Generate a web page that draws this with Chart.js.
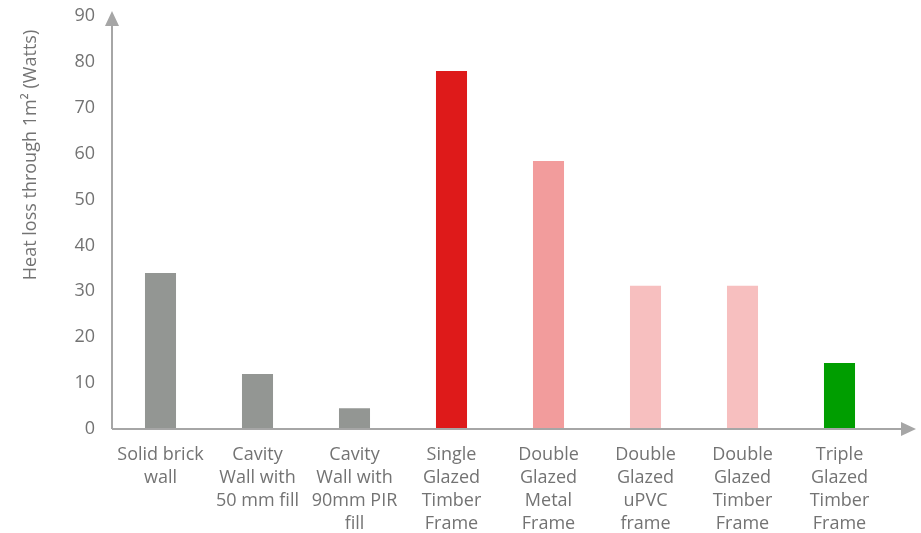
<!DOCTYPE html>
<html><head><meta charset="utf-8">
<script src="https://cdn.jsdelivr.net/npm/chart.js@4/dist/chart.umd.min.js"></script>
<style>html,body{margin:0;padding:0;background:#fff}#wrap{width:921px;height:533px}</style>
</head><body><div id="wrap"><canvas id="c" width="921" height="533"></canvas></div>
<script>
const categories = [
  ["Solid brick","wall"],
  ["Cavity","Wall with","50 mm fill"],
  ["Cavity","Wall with","90mm PIR","fill"],
  ["Single","Glazed","Timber","Frame"],
  ["Double","Glazed","Metal","Frame"],
  ["Double","Glazed","uPVC","frame"],
  ["Double","Glazed","Timber","Frame"],
  ["Triple","Glazed","Timber","Frame"]
];
const heatLoss = [34, 12, 4.5, 78, 58.4, 31.2, 31.2, 14.4];
const barColors = ["#939693","#939693","#939693","#DE1A1A","#F29C9C","#F7BFBF","#F7BFBF","#009E00"];
const yTicks = [0,10,20,30,40,50,60,70,80,90];
const yTitle = "Heat loss through 1m\u00B2 (Watts)";

const FONT = "'Open Sans', sans-serif";
const TXT = "#737373";
const AX = "#A6A6A6";

const arrows = {
  id: 'arrows',
  afterDraw(chart) {
    const ctx = chart.ctx;
    const x = chart.scales.x, y = chart.scales.y;
    const x0 = x.left, y0 = y.bottom;
    ctx.save();
    ctx.strokeStyle = AX; ctx.fillStyle = AX; ctx.lineWidth = 2;
    // y axis
    ctx.beginPath(); ctx.moveTo(x0, y0); ctx.lineTo(x0, 24); ctx.stroke();
    ctx.beginPath(); ctx.moveTo(x0, 11); ctx.lineTo(x0-7, 26); ctx.lineTo(x0+7, 26); ctx.closePath(); ctx.fill();
    // x axis
    ctx.beginPath(); ctx.moveTo(x0, y0); ctx.lineTo(903, y0); ctx.stroke();
    ctx.beginPath(); ctx.moveTo(916, y0); ctx.lineTo(901, y0-7); ctx.lineTo(901, y0+7); ctx.closePath(); ctx.fill();
    // y title
    ctx.translate(31, 155);
    ctx.rotate(-Math.PI/2);
    ctx.fillStyle = TXT;
    ctx.font = "18px " + FONT;
    ctx.textAlign = 'center'; ctx.textBaseline = 'middle';
    ctx.fillText(yTitle, 0, 0);
    ctx.restore();
  }
};

new Chart(document.getElementById('c'), {
  type: 'bar',
  data: {
    labels: categories,
    datasets: [{ data: heatLoss, backgroundColor: barColors, borderWidth: 0,
      barPercentage: 0.32, categoryPercentage: 1 }]
  },
  options: {
    responsive: false, animation: false, devicePixelRatio: 1,
    layout: { padding: { top: 16, right: 33, left: 0, bottom: 0 } },
    plugins: { legend: { display: false }, tooltip: { enabled: false } },
    scales: {
      y: {
        min: 0, max: 90,
        afterBuildTicks(s) { s.ticks = yTicks.map(v => ({ value: v })); },
        afterFit(s) { s.width = 112; s.paddingTop = 0; s.paddingBottom = 0; },
        grid: { display: false, drawTicks: false },
        border: { display: false },
        ticks: { color: TXT, font: { size: 18, family: FONT }, padding: 17 }
      },
      x: {
        afterFit(s) { s.height = 104; s.paddingLeft = 0; s.paddingRight = 0; },
        grid: { display: false, drawTicks: false },
        border: { display: false },
        ticks: { color: TXT, font: { size: 18, family: FONT, lineHeight: 1.28 }, padding: 14, maxRotation: 0, autoSkip: false }
      }
    }
  },
  plugins: [arrows]
});
</script></body></html>
